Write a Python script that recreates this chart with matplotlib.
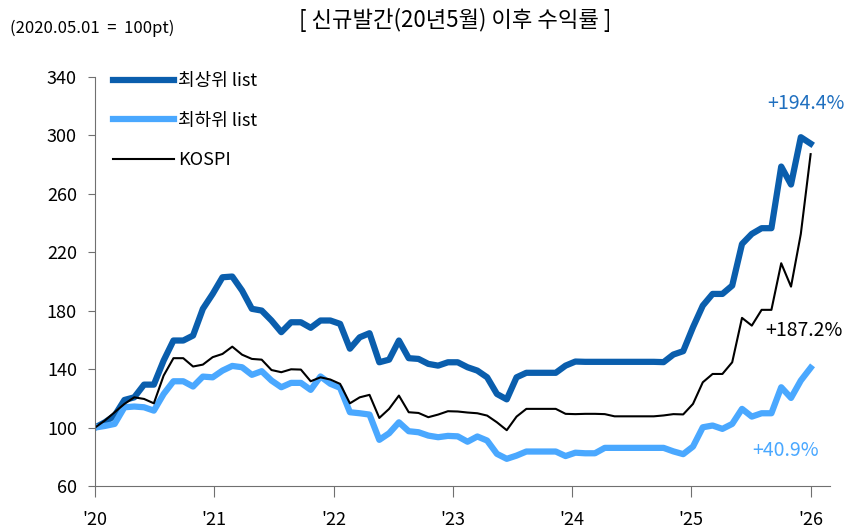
import numpy as np
import matplotlib.pyplot as plt

plt.rcParams['font.family'] = ['Noto Sans CJK KR', 'DejaVu Sans']

# 월별 지수 (2020.05.01 = 100)
top_list = [100, 103.6, 108.2, 118.9, 120.7, 129.4, 129.4, 145.9, 159.6, 159.6,
            163, 181.3, 191.5, 202.9, 203.4, 193.8, 181.3, 180.1, 173.3, 165.3,
            172.1, 172.1, 168.3, 173.3, 173.3, 171, 154, 161.8, 164.6, 144.7,
            146.5, 159.6, 147.5, 147, 143.6, 142.4, 144.7, 144.7, 141.3, 139,
            134.4, 123, 119.3, 134.4, 137.5, 137.5, 137.5, 137.5, 142.4, 145.2,
            145, 145, 145, 145, 145, 145, 145, 145, 144.8, 150,
            152.3, 168.7, 183.5, 191.5, 191.5, 197.2, 225.7, 232.6, 236.5, 236.5,
            278.7, 266.4, 298.8, 294.4]
bottom_list = [100, 101.1, 102.5, 113.9, 114.4, 113.9, 111.6, 123, 131.7, 131.7,
               128.1, 134.9, 134.4, 139, 142.2, 141.3, 136.1, 138.6, 132.2, 127.6,
               130.6, 130.6, 125.8, 135, 130, 127.2, 110.5, 109.8, 108.9, 91.6,
               96.1, 103.6, 97.5, 96.8, 94.5, 93.4, 94.3, 94, 90.3, 93.9,
               91.1, 82, 78.6, 80.8, 83.6, 83.6, 83.6, 83.6, 80.5, 82.8,
               82.4, 82.4, 86.1, 86.1, 86.1, 86.1, 86.1, 86.1, 86.1, 83.7,
               81.8, 87, 100.2, 101.4, 99.1, 102.5, 112.8, 107.5, 109.8, 109.8,
               127.6, 120.3, 132.2, 140.9]
kospi = [100, 104.8, 110.5, 116.2, 120.7, 119.6, 116.6, 135.6, 147.5, 147.5,
         141.8, 143.1, 148.2, 150.4, 155.4, 149.9, 147, 146.5, 139.4, 137.9,
         139.9, 139.7, 131.7, 134.4, 132.9, 129.9, 116.6, 120.7, 122.4, 106.6,
         112.8, 121.9, 110.5, 110, 107.1, 108.9, 111.2, 111, 110.3, 109.8,
         108.2, 103.6, 98.2, 107.5, 112.8, 112.8, 112.8, 112.8, 109.4, 109.2,
         109.4, 109.4, 109.2, 107.7, 107.7, 107.7, 107.7, 107.7, 108.3, 109.2,
         109, 116.2, 131, 136.7, 136.7, 144.7, 175.1, 169.8, 180.6, 180.6,
         212.5, 196.5, 232.6, 287.2]

year_labels = ["'20", "'21", "'22", "'23", "'24", "'25", "'26"]
y_ticks = [60, 100, 140, 180, 220, 260, 300, 340]

x = np.arange(len(top_list))

fig = plt.figure(figsize=(8.47, 5.29), dpi=100)
ax = fig.add_axes([0.1122, 0.0813, 0.868, 0.7731])

dark = '#0A5EAD'
light = '#4AA8FF'

ax.plot(x, top_list, color=dark, lw=4.5, label='최상위 list', solid_joinstyle='round')
ax.plot(x, bottom_list, color=light, lw=4.5, label='최하위 list', solid_joinstyle='round')
ax.plot(x, kospi, color='black', lw=1.5, label='KOSPI')

ax.set_xlim(0, 75)
ax.set_ylim(60, 340)
ax.set_yticks(y_ticks)
ax.set_xticks(np.linspace(0, len(top_list) - 1, len(year_labels)))
ax.set_xticklabels(year_labels)

for s in ['top', 'right']:
    ax.spines[s].set_visible(False)
for s in ['left', 'bottom']:
    ax.spines[s].set_color('#707070')
ax.tick_params(axis='y', length=5, color='#707070', labelsize=13, pad=8)
ax.tick_params(axis='x', length=8, color='#707070', labelsize=13, pad=10)

ax.legend(loc='upper left', bbox_to_anchor=(0.024, 1.012), frameon=False,
          fontsize=13, handlelength=3.4, handletextpad=0.2, labelspacing=1.2,
          borderpad=0, borderaxespad=0)

ax.text(72.5, 322, '+194.4%', color='#1F6FBF', fontsize=14, ha='center', va='center')
ax.text(72.3, 166.5, '+187.2%', color='black', fontsize=14, ha='center', va='center')
ax.text(70.4, 84.3, '+40.9%', color=light, fontsize=14, ha='center', va='center')

fig.text(0.537, 0.962, '[ 신규발간(20년5월) 이후 수익률 ]', fontsize=16,
         ha='center', va='center')
fig.text(0.012, 0.947, '(2020.05.01  =  100pt)', fontsize=12, ha='left', va='center')

fig.savefig('out.png', dpi=100)
